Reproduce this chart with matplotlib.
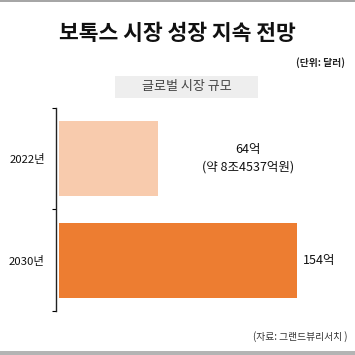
import matplotlib
matplotlib.use("Agg")
import matplotlib.pyplot as plt
from matplotlib.patches import Rectangle

plt.rcParams["font.family"] = ["Noto Sans CJK KR", "DejaVu Sans"]

years = ["2022년", "2030년"]
values = [64, 154]
value_labels = ["64억\n(약 8조4537억원)", "154억"]
colors = ["#F8CBAD", "#ED7D31"]

fig = plt.figure(figsize=(3.55, 3.55), dpi=100)
ax = fig.add_axes([0.158, 0.124, 0.800, 0.572])

pos = list(range(len(years)))
ax.barh(pos, values, height=0.74, color=colors)
ax.set_ylim(1.5, -0.5)
ax.set_xlim(-2, 181.7)

# value labels
ax.text(values[0] + 58, pos[0], value_labels[0], ha="center", va="center",
        fontsize=9, linespacing=1.45, color="#111111")
ax.text(values[1] + 3.5, pos[1], value_labels[1], ha="left", va="center",
        fontsize=9, color="#111111")

ax.set_yticks(pos)
ax.set_yticklabels(years, fontsize=8.2, color="#111111")
ax.set_yticks([-0.5, 0.5, 1.5], minor=True)
ax.tick_params(axis="y", which="major", length=0, pad=8)
ax.tick_params(axis="y", which="minor", length=3, width=0.8)
ax.set_xticks([])
for s in ("top", "right", "bottom"):
    ax.spines[s].set_visible(False)
ax.spines["left"].set_linewidth(1.0)
ax.spines["left"].set_color("#222222")

fig.text(0.5, 0.907, "보톡스 시장 성장 지속 전망", ha="center", va="center",
         fontsize=15.5, fontweight="bold", color="#111111")
fig.text(0.972, 0.825, "(단위: 달러)", ha="right", va="center", fontsize=7,
         fontweight="bold", color="#222222")
fig.patches.append(Rectangle((0.324, 0.724), 0.403, 0.062, transform=fig.transFigure,
                             facecolor="#EEEEEE", edgecolor="none"))
fig.text(0.525, 0.755, "글로벌 시장 규모", ha="center", va="center", fontsize=9.4,
         color="#444444")
fig.text(0.98, 0.051, "(자료: 그랜드뷰리서치 )", ha="right", va="center",
         fontsize=7, color="#333333")

# grey frame strips
fig.patches.append(Rectangle((0, 0.994), 1, 0.006, transform=fig.transFigure,
                             facecolor="#A6A6A6", edgecolor="none"))
fig.patches.append(Rectangle((0, 0), 1, 0.011, transform=fig.transFigure,
                             facecolor="#B4B4B4", edgecolor="none"))

fig.savefig("out.png", dpi=100)
